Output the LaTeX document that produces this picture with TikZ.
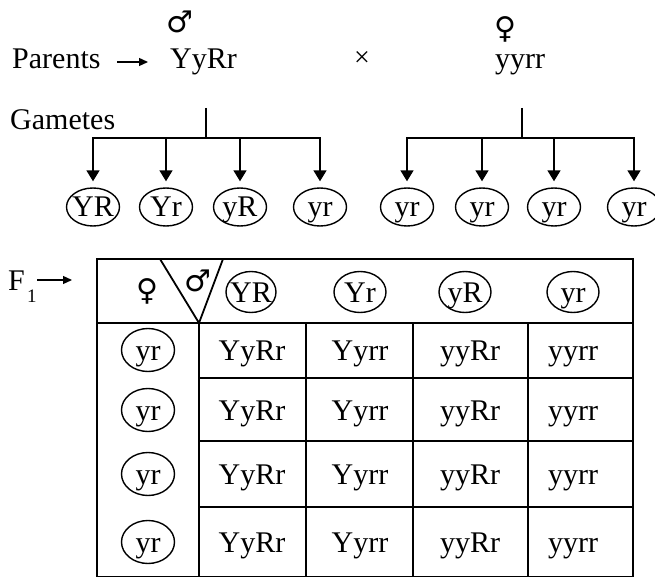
\documentclass[tikz,border=0pt]{standalone}
\usepackage{fontspec}
\setmainfont{Liberation Serif}
\newfontfamily\symfont{DejaVu Sans}
\usetikzlibrary{arrows.meta,shapes.geometric}

\begin{document}
\begin{tikzpicture}[x=1pt,y=-1pt,
  txt/.style={font=\fontsize{30}{32}\selectfont, inner sep=0pt},
  sym/.style={font=\symfont\fontsize{30}{32}\selectfont, inner sep=0pt},
  gam/.style={draw, ellipse, line width=1.4pt, minimum width=53pt,
    minimum height=38pt, inner xsep=-8pt, inner ysep=-6pt,
    text height=23pt, text depth=3pt, font=\fontsize{30}{32}\selectfont},
  cell/.style={txt, anchor=base},
  branch/.style={line width=1.6pt, -{Triangle[width=13pt,length=11pt]}, shorten >=6pt},
  stem/.style={line width=1.6pt},
  grid/.style={line width=1.8pt},
  ptr/.style={line width=1.3pt, -{Triangle[width=8pt,length=9pt]}}]

\useasboundingbox (0,0) rectangle (655,577);

% parents
\node[txt, anchor=base west] (par) at (12,69) {Parents};
\node[txt, anchor=base west] (p1) at (170,69) {YyRr};
\node[sym] (pm) at (180,22) {♂};
\node[txt, font=\fontsize{28}{30}\selectfont] (cross) at (362,59) {×};
\node[sym] (pf) at (505,29) {♀};
\node[txt, anchor=base] (p2) at (520,69) {yyrr};
\draw[ptr] (117,62) coordinate (pa) -- (148,62) coordinate (pb);

% gametes
\node[txt, anchor=base west] (gl) at (10,130) {Gametes};

\node[gam] (g1) at (93,207) {YR};
\node[gam] (g2) at (166,207) {Yr};
\node[gam] (g3) at (240,207) {yR};
\node[gam] (g4) at (320,207) {yr};
\node[gam] (g5) at (407,207) {yr};
\node[gam] (g6) at (482,207) {yr};
\node[gam] (g7) at (554,207) {yr};
\node[gam] (g8) at (634,207) {yr};

\coordinate (s1) at (206,108);
\coordinate (j1) at (206,138);
\coordinate (s2) at (522,108);
\coordinate (j2) at (522,138);
\draw[stem] (s1) -- (j1);
\draw[stem] (s2) -- (j2);
\foreach \g in {g1,g2,g3,g4} \draw[branch] (j1) -| (\g.north);
\foreach \g in {g5,g6,g7,g8} \draw[branch] (j2) -| (\g.north);

% F1
\node[txt, anchor=base west] (f1) at (8,290) {F};
\node[txt, font=\fontsize{19}{21}\selectfont, anchor=base west] (f1s) at (27,302) {1};
\draw[ptr] (37,280) coordinate (fa) -- (72,280) coordinate (fb);

% checkerboard
\draw[grid] (97,259) rectangle (633,577);
\draw[grid] (97,323) -- (633,323);
\draw[grid] (199,323) -- (199,577);
\draw[grid] (160,259) -- (199,323) -- (223,259);
\foreach \x in {306,413,528} \draw[grid] (\x,323) -- (\x,577);
\foreach \y in {378,441,507} \draw[grid] (199,\y) -- (633,\y);

\node[sym] (hf) at (147,291) {♀};
\node[sym] (hm) at (198,281) {♂};
\node[gam, minimum height=41pt, minimum width=50pt] (h1) at (251,292) {YR};
\node[gam, minimum height=41pt, minimum width=52pt] (h2) at (360,292) {Yr};
\node[gam, minimum height=41pt, minimum width=52pt] (h3) at (465,292) {yR};
\node[gam, minimum height=41pt, minimum width=52pt] (h4) at (573,292) {yr};

\foreach \yc/\n in {350/1,410/2,474/3,542/4} {
  \node[gam, minimum height=43pt] (v\n) at (148,\yc) {yr};
  \node[cell] (c\n a) at (252,\yc+10) {YyRr};
  \node[cell] (c\n b) at (360,\yc+10) {Yyrr};
  \node[cell] (c\n c) at (470,\yc+10) {yyRr};
  \node[cell] (c\n d) at (573,\yc+10) {yyrr};
}
\end{tikzpicture}
\end{document}
